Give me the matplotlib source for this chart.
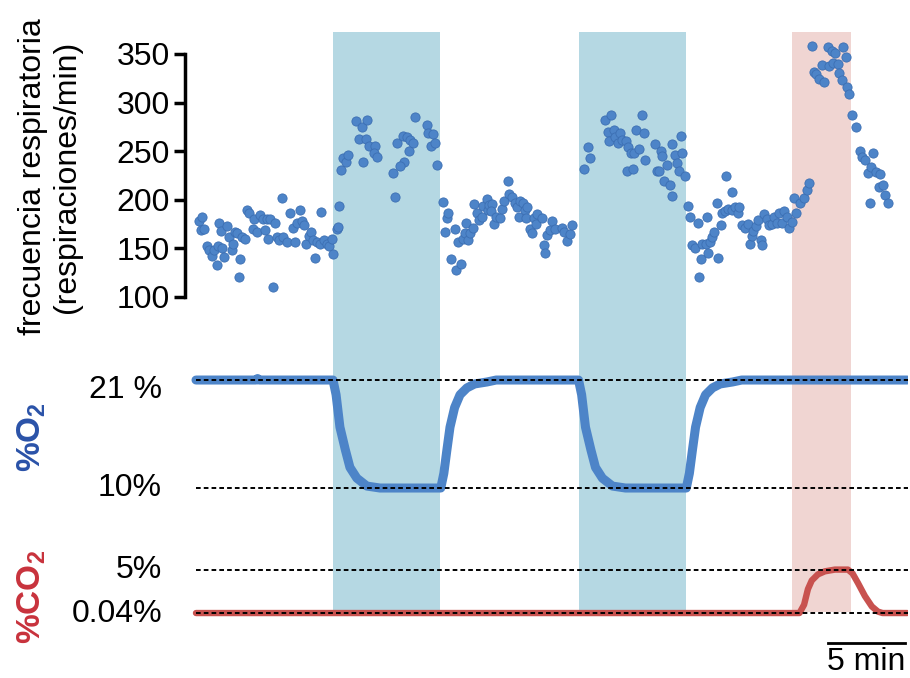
import matplotlib
matplotlib.use("Agg")
import matplotlib.pyplot as plt

plt.rcParams["font.family"] = ["Liberation Sans", "DejaVu Sans"]
plt.rcParams["mathtext.fontset"] = "custom"
plt.rcParams["mathtext.rm"] = "Liberation Sans"
plt.rcParams["mathtext.bf"] = "Liberation Sans:bold"

# --- datos (tiempo en minutos) ---
hipoxia = [(8.9, 15.85), (24.85, 31.8)]     # 10% O2
hipercapnia = (38.7, 42.55)                 # 5% CO2

# frecuencia respiratoria, por fase
t_base1 = [0.2, 0.4, 0.3, 0.5, 0.7, 0.85, 1.05, 1.15, 1.35, 1.4, 1.5, 1.7, 1.6, 1.8, 2.0, 2.15,
           2.35, 2.4, 2.55, 2.65, 2.8, 2.85, 3.0, 3.2, 3.3, 3.45, 3.7, 3.75, 3.95, 4.15, 4.35, 4.5,
           4.6, 4.65, 4.8, 5.0, 5.15, 5.25, 5.4, 5.6, 5.65, 5.9, 6.1, 6.3, 6.45, 6.55, 6.75, 6.9,
           7.0, 7.15, 7.35, 7.45, 7.6, 7.75, 7.85, 8.1, 8.05, 8.3, 8.5, 8.65, 8.85, 8.9, 9.15, 9.2]
r_base1 = [178, 182, 169, 170, 152, 148, 142, 148, 133, 152, 176, 150, 168, 141, 173, 162,
           148, 155, 167, 166, 121, 139, 162, 160, 190, 186, 170, 180, 167, 184, 180, 169,
           180, 160, 180, 110, 176, 162, 159, 202, 162, 157, 186, 171, 157, 176, 190, 178,
           174, 155, 163, 167, 159, 140, 157, 187, 155, 159, 155, 152, 160, 144, 170, 172]

t_hip1 = [9.3, 9.4, 9.55, 9.75, 9.85, 10.4, 10.8, 11.1, 10.6, 11.05, 11.25, 11.6, 11.55, 11.75,
          10.85, 12.8, 12.9, 13.05, 13.45, 13.7, 13.9, 14.1, 13.85, 13.5, 13.25, 14.2, 15.0,
          15.05, 15.4, 15.25, 15.5, 15.65]
r_hip1 = [194, 231, 243, 239, 246, 281, 275, 282, 263, 263, 255, 255, 248, 244,
          239, 228, 203, 258, 266, 265, 261, 258, 250, 239, 235, 285, 277,
          269, 268, 255, 258, 236]

t_base2 = [16.05, 16.15, 16.3, 16.35, 16.55, 16.8, 16.9, 17.0, 17.2, 17.35, 17.55, 17.45, 17.65,
           17.8, 18.0, 18.05, 18.25, 18.4, 18.55, 18.65, 18.9, 18.95, 19.05, 19.2, 19.15, 19.35,
           19.5, 19.75, 19.85, 20.0, 20.25, 20.3, 20.5, 20.7, 20.85, 21.0, 21.05, 21.25, 21.35,
           21.5, 21.45, 21.7, 21.8, 21.95, 22.15, 22.1, 22.45, 22.6, 22.65, 22.8, 23.0, 23.1,
           23.3, 23.75, 23.9, 24.1, 24.3, 24.4]
r_base2 = [198, 167, 181, 186, 139, 170, 128, 157, 134, 160, 176, 166, 159,
           166, 171, 196, 186, 179, 182, 194, 201, 190, 195, 196, 188, 175,
           182, 181, 191, 199, 219, 206, 203, 197, 193, 182, 199, 197, 190,
           193, 181, 170, 166, 181, 185, 175, 181, 154, 145, 164, 169, 178,
           170, 171, 167, 158, 165, 174]

t_hip2 = [25.2, 25.45, 25.6, 26.6, 26.95, 26.75, 27.15, 26.8, 27.25, 27.4, 27.55, 27.65, 27.9,
          28.05, 28.25, 28.45, 28.55, 28.75, 28.95, 29.1, 29.15, 28.0, 28.4, 29.8, 29.95, 30.05,
          30.2, 30.3, 30.4, 30.6, 30.8, 30.9, 30.95, 31.1, 31.25, 31.35, 31.5, 31.55, 31.75]
r_hip2 = [232, 254, 243, 282, 287, 270, 272, 260, 265, 258, 269, 261, 260,
          254, 248, 248, 272, 252, 287, 269, 241, 230, 232, 257, 230, 230,
          250, 245, 219, 236, 215, 204, 257, 246, 238, 230, 266, 248, 224]

t_base3 = [31.95, 32.1, 32.25, 32.4, 32.6, 32.65, 32.8, 32.9, 33.1, 33.25, 33.2, 33.4, 33.5,
           33.65, 33.85, 33.9, 34.1, 34.15, 34.4, 34.35, 34.55, 34.8, 34.85, 35.0, 35.2, 35.3,
           35.45, 35.65, 35.85, 36.0, 36.1, 36.15, 36.35, 36.5, 36.7, 36.75, 36.9, 37.1, 37.2,
           37.4, 37.55, 37.75, 37.85, 38.05, 38.2, 38.4, 38.5, 38.7]
r_base3 = [194, 182, 154, 150, 176, 121, 139, 155, 155, 145, 182, 157, 162,
           167, 197, 140, 174, 186, 224, 188, 191, 208, 190, 193, 186, 193,
           174, 171, 175, 155, 163, 168, 173, 179, 159, 154, 185, 180, 174,
           175, 182, 176, 186, 176, 188, 182, 171, 177]

t_hcap = [38.85, 39.0, 39.25, 39.5, 39.7, 39.85, 40.0, 41.05, 41.3, 41.5, 42.0, 42.2, 40.65,
          41.1, 41.35, 41.7, 40.15, 40.3, 40.45, 40.8, 41.8, 41.95, 42.3, 42.45]
r_hcap = [202, 186, 197, 202, 210, 217, 358, 357, 353, 351, 357, 347, 339,
          338, 341, 340, 331, 329, 324, 321, 330, 323, 316, 309]

t_post = [42.6, 42.9, 43.1, 43.25, 43.45, 43.95, 43.65, 43.85, 44.15, 44.4, 44.35, 44.6, 44.75,
          43.8, 44.95]
r_post = [287, 275, 250, 244, 241, 248, 228, 234, 229, 227, 213, 215, 205, 197, 197]

# trazas de gas
t_o2 = [0, 3.9, 4.0, 4.1, 8.9, 9.1, 9.35, 9.7, 10.0, 10.45, 11.1, 11.95, 15.9, 16.1, 16.3, 16.5,
        16.8, 17.15, 17.6, 18.1, 18.9, 19.5, 24.85, 25.05, 25.3, 25.65, 25.95, 26.4, 27.05, 27.9,
        31.85, 32.05, 32.25, 32.45, 32.75, 33.1, 33.55, 34.05, 34.85, 35.45, 46.2]
o2 = [21, 21, 21.15, 21, 21, 19.5, 16.2, 13.9, 12.1, 11.0, 10.2, 10.0, 10.0, 11.5, 13.9, 16.2,
      18.2, 19.5, 20.2, 20.6, 20.8, 21, 21, 19.5, 16.2, 13.9, 12.1, 11.0, 10.2, 10.0,
      10.0, 11.5, 13.9, 16.2, 18.2, 19.5, 20.2, 20.6, 20.8, 21, 21]
t_co2 = [0, 39.2, 39.5, 39.75, 40.0, 40.4, 40.85, 41.5, 42.35, 42.65, 43.0, 43.45, 43.9, 44.3,
         44.6, 46.2]
co2 = [0.04, 0.04, 1.0, 2.8, 3.8, 4.5, 4.85, 5.05, 5.05, 4.6, 3.5, 2.0, 0.8, 0.2, 0.04, 0.04]

t_rate = t_base1 + t_hip1 + t_base2 + t_hip2 + t_base3 + t_hcap + t_post
rate = r_base1 + r_hip1 + r_base2 + r_hip2 + r_base3 + r_hcap + r_post

AZUL_BANDA, ROSA_BANDA = "#b5d8e3", "#f0d5d2"
AZUL, ROJO = "#4d84c8", "#c8524f"
FS = 23
XLIM = (-0.714, 46.25)
T_END = 46.25

fig = plt.figure(figsize=(9.1, 6.78), dpi=100)


def ejes(top, bottom, left=185, right=908):
    # posición en píxeles del lienzo 910x678
    return fig.add_axes([left / 910, 1 - bottom / 678, (right - left) / 910, (bottom - top) / 678])


# bandas de fondo, continuas a través de los tres paneles
bg = ejes(32, 612)
bg.set_xlim(XLIM)
bg.axis("off")
for a, b in hipoxia:
    bg.axvspan(a, b, color=AZUL_BANDA, lw=0)
bg.axvspan(*hipercapnia, color=ROSA_BANDA, lw=0)

# panel superior: frecuencia respiratoria
ax = ejes(32, 297)
ax.set_facecolor("none")
ax.set_xlim(XLIM)
ax.set_ylim(100, 372.6)
ax.scatter(t_rate, rate, s=44, color=AZUL, edgecolor="#3c6fb3", linewidth=0.6, zorder=3,
           clip_on=False)
for s in ("top", "right", "bottom"):
    ax.spines[s].set_visible(False)
ax.spines["left"].set_linewidth(2.5)
ax.spines["left"].set_bounds(100, 350)
ax.set_xticks([])
ax.set_yticks([100, 150, 200, 250, 300, 350])
ax.tick_params(axis="y", labelsize=FS, length=8, width=2.5, pad=3)
fig.text(50 / 910, 1 - 177 / 678, "frecuencia respiratoria\n(respiraciones/min)",
         rotation=90, ha="center", va="center", fontsize=FS, multialignment="center",
         linespacing=1.15)

# panel O2
ax2 = ejes(360, 500)
ax2.set_xlim(XLIM)
ax2.set_ylim(8.78, 23.04)
ax2.axis("off")
ax2.plot(t_o2, o2, color=AZUL, lw=6.5, solid_capstyle="round", solid_joinstyle="round", zorder=2)
for y in (21, 10):
    ax2.plot([0, T_END], [y, y], color="black", lw=1.4, ls=(0, (2.4, 1.6)), zorder=3)

# panel CO2
ax3 = ejes(550, 625)
ax3.set_xlim(XLIM)
ax3.set_ylim(-1.34, 7.31)
ax3.axis("off")
ax3.plot(t_co2, co2, color=ROJO, lw=4.6, solid_capstyle="round", solid_joinstyle="round", zorder=2)
for y in (5, 0.04):
    ax3.plot([0, T_END], [y, y], color="black", lw=1.4, ls=(0, (2.4, 1.6)), zorder=3)

# etiquetas de nivel
for txt, ypx in (("21 %", 390), ("10%", 488), ("5%", 570), ("0.04%", 614)):
    fig.text(162 / 910, 1 - ypx / 678, txt, ha="right", va="center", fontsize=FS)
fig.text(32 / 910, 1 - 437 / 678, r"$\mathbf{\%O}_\mathbf{2}$", rotation=90, ha="center",
         va="center", fontsize=FS + 1, color="#2a52a8")
fig.text(32 / 910, 1 - 597 / 678, r"$\mathbf{\%CO}_\mathbf{2}$", rotation=90, ha="center",
         va="center", fontsize=FS + 1, color="#c8323c")

# barra de escala: 5 min
bar_t0 = 41.04
ax3.plot([bar_t0, bar_t0 + 5], [-3.42, -3.42], color="black", lw=2, clip_on=False)
ax3.text(bar_t0 + 2.5, -5.65, "5 min", ha="center", va="center", fontsize=FS)

fig.savefig("out.png", dpi=100)
